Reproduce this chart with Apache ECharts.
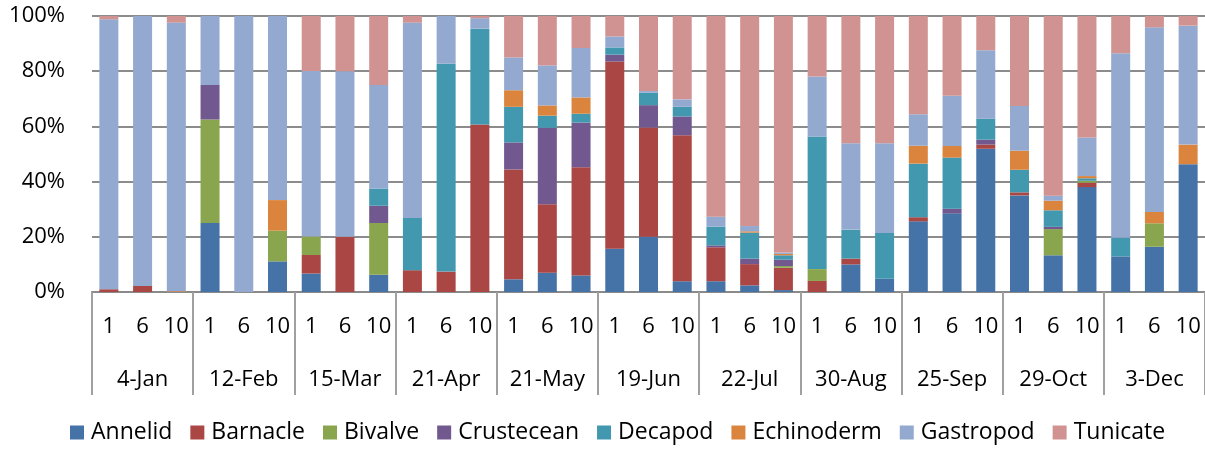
<!DOCTYPE html>
<html>
<head>
<meta charset="utf-8">
<script src="https://cdn.jsdelivr.net/npm/echarts@6/dist/echarts.min.js"></script>
<style>
html, body { margin: 0; padding: 0; background: #fff; }
#main { width: 1205px; height: 449px; }
</style>
</head>
<body>
<div id="main"></div>
<script>
// sampling dates and depths (m)
var dates = ['4-Jan', '12-Feb', '15-Mar', '21-Apr', '21-May', '19-Jun', '22-Jul', '30-Aug', '25-Sep', '29-Oct', '3-Dec'];
var depths = ['1', '6', '10'];
var yTicks = [0, 20, 40, 60, 80, 100];

// percent composition, 3 depths per date
var annelid    = [0, 0, 0,  25, 0, 11.1,  6.7, 0, 6.25,  0, 0, 0,  4.6, 7.0, 6.0,  15.7, 20, 3.9,  3.9, 2.4, 0.7,  0, 10.0, 4.8,  25.6, 28.5, 51.9,  35.0, 13.3, 38.0,  12.9, 16.4, 46.3];
var barnacle   = [1.0, 2.2, 0,  0, 0, 0,  6.7, 20, 0,  7.9, 7.4, 60.7,  39.8, 24.8, 39.2,  67.8, 39.6, 52.9,  12.3, 7.7, 8.1,  4.0, 2.1, 0,  1.5, 0, 1.5,  1.1, 0, 1.6,  0, 0, 0];
var bivalve    = [0, 0, 0,  37.5, 0, 11.1,  6.7, 0, 18.75,  0, 0, 0,  0, 0, 0,  0, 0, 0,  0, 0, 0.6,  4.3, 0, 0,  0, 0, 0,  0, 9.5, 0.7,  0, 8.5, 0];
var crustecean = [0, 0, 0,  12.5, 0, 0,  0, 0, 6.25,  0, 0, 0,  9.8, 27.7, 16.2,  2.5, 8.1, 6.8,  0.7, 2.0, 2.3,  0, 0, 0,  0, 1.7, 1.8,  0, 0.8, 0,  0, 0, 0];
var decapod    = [0, 0, 0,  0, 0, 0,  0, 0, 6.25,  18.9, 75.3, 34.7,  12.9, 4.4, 3.2,  2.6, 4.5, 3.5,  6.8, 9.4, 1.6,  48.0, 10.5, 16.6,  19.4, 18.5, 7.6,  8.2, 6.0, 0.9,  6.8, 0, 0];
var echinoderm = [0, 0, 0.3,  0, 0, 11.1,  0, 0, 0,  0, 0, 0,  6.0, 3.7, 5.9,  0, 0, 0,  0, 0.5, 0.5,  0, 0, 0,  6.5, 4.2, 0,  6.9, 3.5, 0.8,  0, 4.1, 7.1];
var gastropod  = [97.8, 97.8, 97.3,  25, 100, 66.7,  60, 60, 37.5,  70.8, 17.3, 3.8,  11.9, 14.5, 17.9,  4.0, 0.6, 2.7,  3.6, 1.9, 0.5,  21.8, 31.3, 32.5,  11.4, 18.2, 24.8,  16.2, 1.8, 14.0,  66.8, 66.9, 43.1];
var tunicate   = [1.2, 0, 2.4,  0, 0, 0,  20, 20, 25,  2.4, 0, 0.8,  15.0, 17.9, 11.6,  7.4, 27.4, 30.2,  72.7, 76.1, 85.7,  21.9, 46.1, 46.1,  35.6, 28.9, 12.4,  32.6, 65.1, 44.0,  13.5, 4.1, 3.5];

var seriesNames = ['Annelid', 'Barnacle', 'Bivalve', 'Crustecean', 'Decapod', 'Echinoderm', 'Gastropod', 'Tunicate'];
var seriesData = [annelid, barnacle, bivalve, crustecean, decapod, echinoderm, gastropod, tunicate];
var colors = ['#4572A7', '#AA4643', '#89A54E', '#71588F', '#4198AF', '#DB843D', '#93A9CF', '#D19392'];

var FONT = 'Open Sans';

// one category per (date, depth)
var cats = [];
for (var i = 0; i < dates.length; i++) {
    for (var j = 0; j < depths.length; j++) {
        cats.push(depths[j]);
    }
}

var chart = echarts.init(document.getElementById('main'));

var series = [];
for (var k = 0; k < seriesNames.length; k++) {
    series.push({
        name: seriesNames[k],
        type: 'bar',
        stack: 'total',
        xAxisIndex: 0,
        barWidth: 19,
        itemStyle: { color: colors[k] },
        data: seriesData[k]
    });
}

var option = {
    animation: false,
    backgroundColor: '#fff',
    color: colors,
    textStyle: { fontFamily: FONT },
    grid: { left: 92, right: 0, top: 16, bottom: 157 },
    legend: {
        left: 70,
        top: 421,
        padding: 0,
        itemWidth: 14,
        itemHeight: 14,
        itemGap: 18,
        icon: 'rect',
        textStyle: { fontFamily: FONT, fontSize: 23, color: '#000', padding: [0, 0, 0, 2] },
        data: seriesNames
    },
    xAxis: [{
        type: 'category',
        data: cats,
        position: 'bottom',
        axisLine: { show: true, lineStyle: { color: '#8a8a8a', width: 2 } },
        axisTick: { show: false },
        axisLabel: { interval: 0, margin: 24, fontSize: 22, color: '#000', fontFamily: FONT },
        splitLine: { show: false }
    }, {
        type: 'category',
        data: dates,
        position: 'bottom',
        axisLine: { show: false },
        axisTick: { show: true, interval: 0, length: 103, lineStyle: { color: '#a0a0a0', width: 2 } },
        axisLabel: { interval: 0, margin: 77, fontSize: 22, color: '#000', fontFamily: FONT },
        splitLine: { show: false }
    }],
    yAxis: {
        type: 'value',
        min: yTicks[0],
        max: yTicks[yTicks.length - 1],
        interval: 20,
        axisLine: { show: false },
        axisTick: { show: false },
        axisLabel: { margin: 27, fontSize: 22, color: '#000', fontFamily: FONT, formatter: '{value}%' },
        splitLine: { show: true, lineStyle: { color: '#8c8c8c', width: 2 } }
    },
    series: series
};

chart.setOption(option);
</script>
</body>
</html>
